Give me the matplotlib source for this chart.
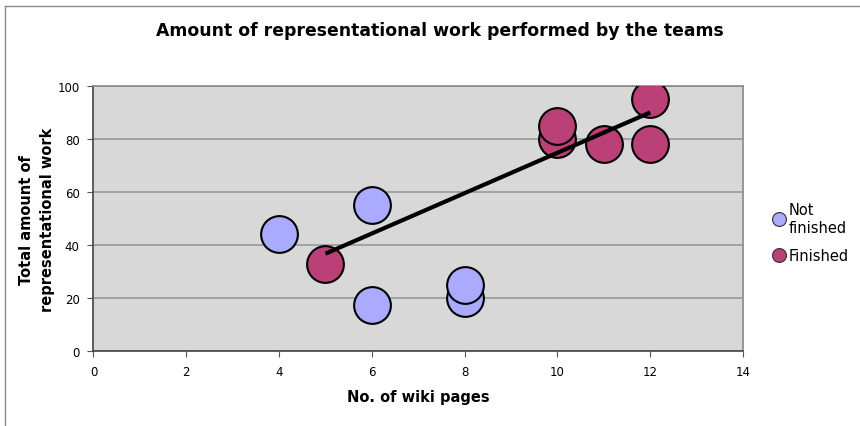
import numpy as np
import matplotlib.pyplot as plt
from matplotlib.lines import Line2D

# team results: wiki pages vs. representational work
not_finished_pages = [4, 6, 6, 8, 8]
not_finished_work = [44, 55, 17.5, 20, 25]
finished_pages = [5, 10, 10, 11, 12, 12]
finished_work = [33, 80, 85, 78, 78, 95]

x_ticks = [0, 2, 4, 6, 8, 10, 12, 14]
y_ticks = [0, 20, 40, 60, 80, 100]

light = '#aaaaff'
dark = '#bb4077'

fig = plt.figure(figsize=(8.6, 4.27), dpi=100)
ax = fig.add_axes([0.1087, 0.1756, 0.7553, 0.6204])
ax.set_facecolor('#d8d8d8')

ax.scatter(not_finished_pages, not_finished_work, s=700, color=light,
           edgecolor='black', linewidth=1.5, zorder=3)
ax.scatter(finished_pages, finished_work, s=700, color=dark,
           edgecolor='black', linewidth=1.5, zorder=3)

# linear trend of the finished teams
slope, icpt = np.polyfit(finished_pages, finished_work, 1)
tx = np.array([min(finished_pages), max(finished_pages)])
ax.plot(tx, slope * tx + icpt, color='black', lw=3, zorder=4,
        solid_capstyle='butt')

ax.set_xlim(0, 14)
ax.set_ylim(0, 100)
ax.set_xticks(x_ticks)
ax.set_yticks(y_ticks)
ax.yaxis.grid(True, color='#999999', lw=1.2)
ax.set_axisbelow(True)
ax.tick_params(labelsize=8.5, length=4, color='#555555', pad=6)
for s in ax.spines.values():
    s.set_color('#888888')
    s.set_linewidth(1.2)
ax.spines['bottom'].set_color('#444444')
ax.spines['left'].set_color('#444444')

# title centred over the whole chart, not just the axes
fig.text(0.512, 0.927, 'Amount of representational work performed by the teams',
         fontsize=12.4, fontweight='bold', ha='center', va='center')
ax.set_xlabel('No. of wiki pages', fontsize=10.5, fontweight='bold', labelpad=8)
ax.set_ylabel('Total amount of\nrepresentational work', fontsize=10.5,
              fontweight='bold', labelpad=2, linespacing=1.45)

handles = [
    Line2D([], [], marker='o', ls='', markersize=10, markerfacecolor=light,
           markeredgecolor='#333333', markeredgewidth=0.8),
    Line2D([], [], marker='o', ls='', markersize=10, markerfacecolor=dark,
           markeredgecolor='#333333', markeredgewidth=0.8),
]
fig.legend(handles, ['Not\nfinished', 'Finished'], loc='upper left',
           bbox_to_anchor=(0.88, 0.555), frameon=False, fontsize=10.5,
           handletextpad=0.05, labelspacing=0.9, handlelength=1.2)

# chart frame edges
fig.add_artist(Line2D([0.006, 1.0], [0.984, 0.984], color='#888888', lw=1))
fig.add_artist(Line2D([0.006, 0.006], [0.0, 0.984], color='#888888', lw=1))

fig.savefig('out.png', dpi=100)
